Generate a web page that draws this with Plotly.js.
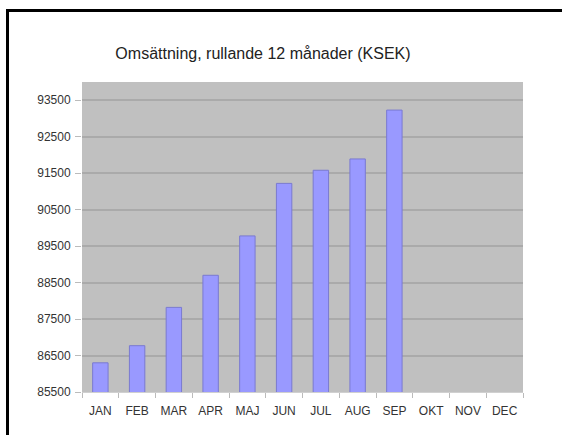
<!DOCTYPE html>
<html>
<head>
<meta charset="utf-8">
<script src="https://cdn.plot.ly/plotly-3.0.1.min.js"></script>
<style>html,body{margin:0;padding:0;background:#fff;}#chart{width:562px;height:435px;}</style>
</head>
<body>
<div id="chart"></div>
<script>
const months = ["JAN","FEB","MAR","APR","MAJ","JUN","JUL","AUG","SEP","OKT","NOV","DEC"];
const values = [86300, 86770, 87820, 88700, 89780, 91220, 91580, 91890, 93230, null, null, null];
const tickVals = [85500, 86500, 87500, 88500, 89500, 90500, 91500, 92500, 93500];
const titleText = "Omsättning, rullande 12 månader (KSEK)";

const W = 562, H = 435, L = 82, R = 39, T = 82, B = 43;
const pw = W - L - R, ph = H - T - B;
const px = v => (v - L) / pw;
const py = v => (H - B - v) / ph;

Plotly.newPlot('chart', [{
  type: 'bar',
  x: months,
  y: values,
  width: 0.42,
  marker: {color: '#9999ff', line: {color: '#7a7ad0', width: 1}},
  hoverinfo: 'none',
  cliponaxis: true
}], {
  width: W, height: H,
  margin: {l: L, r: R, t: T, b: B, pad: 0},
  paper_bgcolor: '#ffffff',
  plot_bgcolor: '#c0c0c0',
  showlegend: false,
  font: {family: 'Liberation Sans, Arial, sans-serif', color: '#333333', size: 12},
  title: {text: titleText, x: px(263), xref: 'paper', xanchor: 'center', y: 1 - 53/H, yref: 'container', yanchor: 'middle',
          font: {size: 16, color: '#222222', family: 'Liberation Sans, Arial, sans-serif'}},
  xaxis: {
    type: 'category', categoryorder: 'array', categoryarray: months,
    range: [-0.5, 11.5], tickson: 'boundaries', ticks: 'outside', ticklen: 5, tickcolor: '#bbbbbb',
    ticklabelstandoff: 8,
    showgrid: false, showline: true, linecolor: '#d0d0d0', linewidth: 1, zeroline: false,
    tickfont: {size: 12, color: '#333333'}
  },
  yaxis: {
    range: [85500, 94000], tickmode: 'array',
    tickvals: tickVals, ticktext: tickVals.map(String),
    ticks: 'outside', ticklen: 6, tickcolor: '#bbbbbb', ticklabelstandoff: 2,
    showgrid: true, gridcolor: '#aaaaaa', gridwidth: 2, zeroline: false, showline: false,
    tickfont: {size: 12, color: '#333333'}
  },
  shapes: [{
    type: 'path', xref: 'paper', yref: 'paper',
    path: 'M ' + px(7.5) + ' ' + py(445) + ' L ' + px(7.5) + ' ' + py(10.5) + ' L ' + px(575) + ' ' + py(10.5),
    line: {color: '#000000', width: 3}
  }]
}, {staticPlot: true});
</script>
</body>
</html>
